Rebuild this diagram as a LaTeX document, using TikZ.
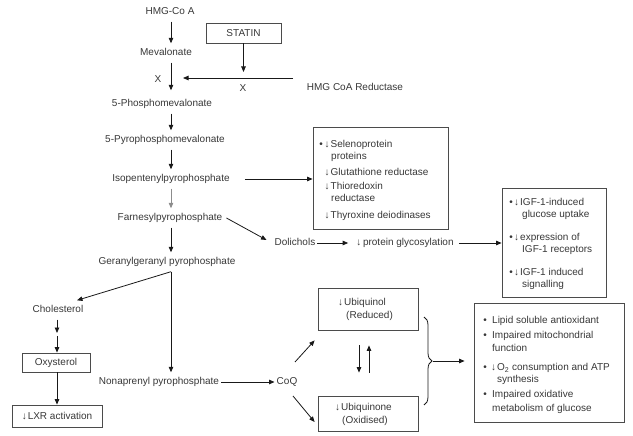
\documentclass[tikz,border=0pt]{standalone}
\usepackage{fontspec}
\setmainfont{Liberation Sans}
\usetikzlibrary{arrows.meta,decorations.pathreplacing}
\definecolor{txt}{RGB}{55,55,55}
\definecolor{lnc}{RGB}{25,25,25}
\definecolor{boxc}{RGB}{75,75,75}
\begin{document}
\begin{tikzpicture}[x=1pt,y=-1pt,
  every node/.style={font=\fontsize{10}{12}\selectfont, text=txt},
  lbl/.style={inner xsep=2pt, inner ysep=4.5pt, text height=7.5pt, text depth=2.5pt},
  ln/.style={anchor=west, inner sep=0pt, text height=7.5pt, text depth=2.5pt},
  bul/.style={inner sep=0pt, text height=7.5pt, text depth=2.5pt},
  box/.style={draw=boxc, line width=0.8pt, inner sep=0pt},
  arr/.style={draw=lnc, line width=0.8pt, -{Triangle[length=5.5pt,width=4.5pt]}},
  plain/.style={draw=lnc, line width=0.8pt},
]
\useasboundingbox (0,0) rectangle (633,436);

% main chain
\node[lbl] (hmg) at (170,12) {HMG-Co A};
\node[lbl] (mev) at (166,53) {Mevalonate};
\node[lbl] (pm) at (162,104) {5-Phosphomevalonate};
\node[lbl] (ppm) at (165,140) {5-Pyrophosphomevalonate};
\node[lbl] (ipp) at (171,179) {Isopentenylpyrophosphate};
\node[lbl] (fpp) at (170,218) {Farnesylpyrophosphate};
\node[lbl] (ggpp) at (167,262) {Geranylgeranyl pyrophosphate};
\coordinate (ax) at (171,0);

\draw[arr] (hmg.south -| ax) -- (mev.north -| ax);
\draw[arr, shorten >=4pt] (mev.south -| ax) -- (pm.north -| ax);
\draw[arr] (pm.south -| ax) -- (ppm.north -| ax);
\draw[arr] (ppm.south -| ax) -- (ipp.north -| ax);
\draw[arr, draw=black!45] (ipp.south -| ax) -- (fpp.north -| ax);
\draw[arr] (fpp.south -| ax) -- (ggpp.north -| ax);

% statin
\node[box, minimum width=75pt, minimum height=20pt] (statin) at (243.5,33) {STATIN};
\coordinate (sx) at (243.5,72);
\draw[arr] (statin.south) -- (sx);
\coordinate (hr) at (293,78);
\coordinate (hre) at (183,78);
\draw[arr] (hr) -- (hre);
\node[lbl] (xa) at (158,80) {X};
\node[lbl] (xb) at (243,89) {X};
\node[lbl] (red) at (355,88) {HMG CoA Reductase};

% selenoprotein box
\node[box, minimum width=135pt, minimum height=102pt] (sel) at (380.5,178) {};
\node[bul] (sb1) at (321,145) {•};
\node[ln] (s1) at (324.5,145) {↓\hspace{1pt}Selenoprotein};
\node[ln] (s2) at (331,157) {proteins};
\node[ln] (s3) at (324.5,173) {↓\hspace{1pt}Glutathione reductase};
\node[ln] (s4) at (324.5,187) {↓\hspace{1pt}Thioredoxin};
\node[ln] (s5) at (331,199) {reductase};
\node[ln] (s6) at (324.5,216) {↓\hspace{1pt}Thyroxine deiodinases};
\draw[arr, shorten <=13pt] (ipp.east) -- (sel.west |- ipp);

% dolichols
\node[lbl] (dol) at (295,243) {Dolichols};
\node[lbl] (gly) at (405,243) {↓\,protein glycosylation};
\draw[arr] ([xshift=2pt]fpp.east) -- ([shift={(-6pt,3pt)}]dol.west);
\draw[arr, shorten >=6pt] (dol.east) -- (gly.west);

% IGF box
\node[box, minimum width=104pt, minimum height=109pt] (igf) at (554,242.5) {};
\draw[arr, shorten <=3pt] (gly.east) -- (igf.west |- gly);
\node[bul] (ib1) at (511,203) {•};
\node[ln] (i1) at (514,203) {↓\hspace{1pt}IGF-1-induced};
\node[ln] (i2) at (522,215) {glucose uptake};
\node[bul] (ib2) at (511,238) {•};
\node[ln] (i3) at (514,238) {↓\hspace{1pt}expression of};
\node[ln] (i4) at (522,250) {IGF-1 receptors};
\node[bul] (ib3) at (511,273) {•};
\node[ln] (i5) at (514,273) {↓\hspace{1pt}IGF-1 induced};
\node[ln] (i6) at (522,285) {signalling};

% cholesterol branch
\coordinate (gs) at (ggpp.south -| ax);
\node[lbl] (chol) at (58,310) {Cholesterol};
\node[box, minimum width=68pt, minimum height=19pt] (oxy) at (56,362.5) {Oxysterol};
\node[box, minimum width=90pt, minimum height=22pt] (lxr) at (57,416) {↓\hspace{1pt}LXR activation};
\draw[arr] (gs) -- ([xshift=19pt]chol.north);
\coordinate (cm) at (57,334.5);
\draw[arr] (chol.south -| cm) -- ([yshift=1.5pt]cm);
\draw[arr] ([yshift=-1.5pt]cm) -- (oxy.north -| cm);
\draw[arr] (oxy.south -| cm) -- (lxr.north -| cm);

% nonaprenyl / CoQ
\node[lbl] (non) at (159,382) {Nonaprenyl pyrophosphate};
\node[lbl] (coq) at (287,382) {CoQ};
\draw[arr] (gs) -- (gs |- non.north);
\draw[arr] (non.east) -- (coq.west);

% ubiquinol / ubiquinone
\node[box, minimum width=100pt, minimum height=42pt] (ubl) at (368,309) {};
\node[ln] (u1) at (338,303) {↓\hspace{1pt}Ubiquinol};
\node[ln] (u2) at (346,316) {(Reduced)};
\node[box, minimum width=100pt, minimum height=35pt] (ubn) at (368,413.5) {};
\node[ln] (u3) at (335,408) {↓\hspace{1pt}Ubiquinone};
\node[ln] (u4) at (342,421) {(Oxidised)};
\draw[arr] ([shift={(8pt,20pt)}]coq.center) -- ([shift={(-3pt,-10pt)}]ubl.south west);
\draw[arr] ([shift={(6pt,-14pt)}]coq.center) -- ([shift={(-3pt,-8.5pt)}]ubn.west);
\draw[arr] ([shift={(-9pt,-15pt)}]ubl.south) -- ([shift={(-9pt,23pt)}]ubn.north);
\draw[arr] ([shift={(1pt,23pt)}]ubn.north) -- ([shift={(1pt,-15pt)}]ubl.south);

% brace and effects box
\coordinate (b1) at (424,317);
\coordinate (b2) at (424,405);
\draw[plain, decorate, decoration={brace, amplitude=8pt}] (b1) -- (b2);
\coordinate (bt) at (433,361);
\node[box, minimum width=150pt, minimum height=119pt] (eff) at (549,362.5) {};
\draw[arr, shorten >=9pt] (bt) -- (eff.west |- bt);
\node[bul] (eb1) at (485,321) {•};
\node[ln] (e1) at (492,321) {Lipid soluble antioxidant};
\node[bul] (eb2) at (485,336) {•};
\node[ln] (e2) at (492,336) {Impaired mitochondrial};
\node[ln] (e3) at (492,349) {function};
\node[bul] (eb3) at (485,368) {•};
\node[ln] (e4) at (491,368) {↓\hspace{1pt}O\textsubscript{2} consumption and ATP};
\node[ln] (e5) at (497,380) {synthesis};
\node[bul] (eb4) at (485,395) {•};
\node[ln] (e6) at (492,395) {Impaired oxidative};
\node[ln] (e7) at (492,409) {metabolism of glucose};
\end{tikzpicture}
\end{document}
